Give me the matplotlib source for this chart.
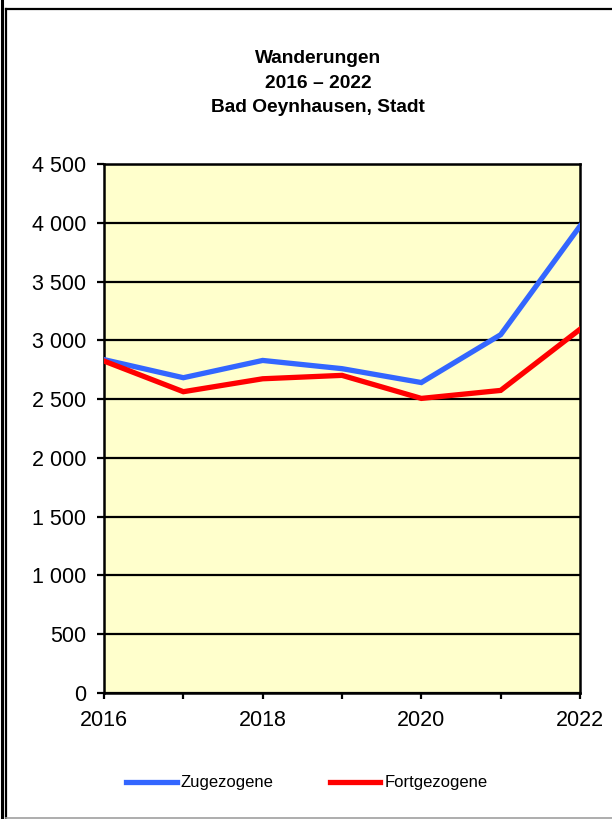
import matplotlib.pyplot as plt
from matplotlib.lines import Line2D
from matplotlib.ticker import FuncFormatter

plt.rcParams['font.family'] = ['Liberation Sans', 'DejaVu Sans']

years = [2016, 2017, 2018, 2019, 2020, 2021, 2022]
zugezogene = [2836, 2682, 2829, 2759, 2641, 3048, 3972]
fortgezogene = [2824, 2563, 2673, 2702, 2506, 2574, 3094]

W, H = 612, 819
fig = plt.figure(figsize=(W / 100, H / 100), dpi=100)

# outer frame
def px_line(x0, y0, x1, y1, color='black', lw=1.5):
    fig.add_artist(Line2D([x0 / W, x1 / W], [1 - y0 / H, 1 - y1 / H],
                          color=color, lw=lw, transform=fig.transFigure))

px_line(1.5, 0, 1.5, H, lw=2.2)
px_line(6, 9, 6, 818, lw=1.6)
px_line(6, 9, W, 9, lw=1.6)
px_line(6, 817.5, W, 817.5, color='#a0a0a0', lw=1.2)

ax = fig.add_axes([104 / W, 1 - 693 / H, (580 - 104) / W, (693 - 164) / H])
ax.set_facecolor('#FFFFCC')

ax.plot(years, zugezogene, color='#3366FF', lw=3.8, label='Zugezogene',
        solid_joinstyle='miter', zorder=3)
ax.plot(years, fortgezogene, color='#FF0000', lw=3.8, label='Fortgezogene',
        solid_joinstyle='miter', zorder=3)

ax.set_xlim(2016, 2022)
ax.set_ylim(0, 4500)
ax.set_xticks(years)
ax.set_xticklabels([str(y) if (y - 2016) % 2 == 0 else '' for y in years])
ax.set_yticks(range(0, 4501, 500))
ax.yaxis.set_major_formatter(FuncFormatter(lambda v, p: f'{int(v):,}'.replace(',', ' ')))
ax.grid(axis='y', color='black', lw=1.6, zorder=1)
ax.set_axisbelow(True)
for s in ax.spines.values():
    s.set_linewidth(1.8)
ax.tick_params(axis='y', direction='out', length=5, width=1.6, pad=8,
               labelsize=15.5)
ax.tick_params(axis='x', direction='out', length=4, width=1.6, pad=8,
               labelsize=15.5)

fig.text(318 / W, 1 - 83 / H, 'Wanderungen\n2016 \u2013 2022\nBad Oeynhausen, Stadt',
         ha='center', va='center', fontsize=13.8, fontweight='bold',
         linespacing=1.55)

fig.legend(loc='center', bbox_to_anchor=(307 / W, 1 - 783 / H), ncol=2,
           frameon=False, fontsize=12, handlelength=3.0, handletextpad=0.25,
           columnspacing=3.4)

fig.savefig('out.png', dpi=100)
